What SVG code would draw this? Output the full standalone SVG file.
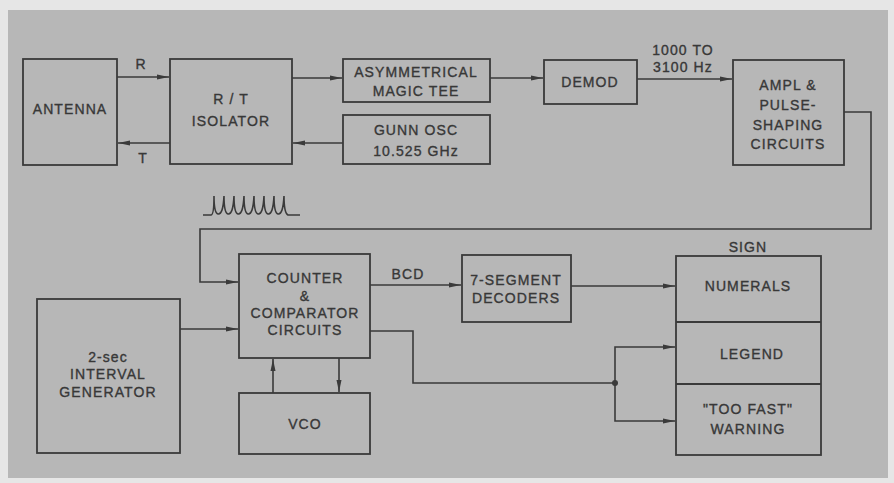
<svg xmlns="http://www.w3.org/2000/svg" width="894" height="483" viewBox="0 0 894 483">
<style>
.box{fill:none;stroke:#3a3a3a;stroke-width:1.8}
.ln{fill:none;stroke:#3a3a3a;stroke-width:1.6}
.t{font-family:"Liberation Sans","DejaVu Sans",sans-serif;font-size:14px;fill:#383838;stroke:#383838;stroke-width:0.35;text-anchor:middle;letter-spacing:1.1px}
</style>
<defs>
<marker id="ah" viewBox="0 0 12 6" refX="12" refY="3" markerWidth="12" markerHeight="6" markerUnits="userSpaceOnUse" orient="auto">
<path d="M0,0.5 L12,3 L0,5.5 Z" fill="#3a3a3a"/>
</marker>
</defs>
<rect x="0" y="0" width="894" height="483" fill="#e6e6e6"/>
<rect x="8" y="10" width="880" height="468" fill="#b7b7b7"/>

<g id="connectors">
<line class="ln" x1="117" y1="77" x2="169" y2="77" marker-end="url(#ah)"/>
<line class="ln" x1="170" y1="143" x2="118" y2="143" marker-end="url(#ah)"/>
<line class="ln" x1="292" y1="78" x2="342" y2="78" marker-end="url(#ah)"/>
<line class="ln" x1="343" y1="143" x2="293" y2="143" marker-end="url(#ah)"/>
<line class="ln" x1="490" y1="78" x2="543" y2="78" marker-end="url(#ah)"/>
<line class="ln" x1="637" y1="79" x2="732" y2="79" marker-end="url(#ah)"/>
<polyline class="ln" points="844,112 871,112 871,229 200,229 200,282 238,282" marker-end="url(#ah)"/>
<line class="ln" x1="180" y1="329" x2="238" y2="329" marker-end="url(#ah)"/>
<line class="ln" x1="273" y1="393" x2="273" y2="359" marker-end="url(#ah)"/>
<line class="ln" x1="339" y1="358" x2="339" y2="392" marker-end="url(#ah)"/>
<line class="ln" x1="370" y1="285" x2="461" y2="285" marker-end="url(#ah)"/>
<line class="ln" x1="571" y1="286" x2="675" y2="286" marker-end="url(#ah)"/>
<polyline class="ln" points="370,331 413,331 413,383 615,383"/>
<polyline class="ln" points="615,383 615,347 675,347" marker-end="url(#ah)"/>
<polyline class="ln" points="615,383 615,421 675,421" marker-end="url(#ah)"/>
<circle cx="615" cy="383" r="3" fill="#3a3a3a"/>
<text class="t" x="141" y="69">R</text>
<text class="t" x="143" y="163">T</text>
<text class="t" x="683" y="55">1000 TO</text>
<text class="t" x="683" y="72">3100 Hz</text>
<text class="t" x="408" y="279">BCD</text>
</g>

<g id="pulses">
<path class="ln" d="M203,215 L211,215 Q214,215 214,196 Q214,213 218,214 Q223,215 224,196 Q224,213 228,214 Q233,215 234,196 Q234,213 238,214 Q243,215 244,196 Q244,213 248,214 Q253,215 254,196 Q254,213 258,214 Q263,215 264,196 Q264,213 268,214 Q273,215 274,196 Q274,213 278,214 Q283,215 284,196 Q284,213 288,215 L300,215"/>
</g>

<g id="antenna">
<rect class="box" x="23" y="59" width="94" height="106"/>
<text class="t" x="70" y="114">ANTENNA</text>
</g>
<g id="isolator">
<rect class="box" x="170" y="59" width="122" height="105"/>
<text class="t" x="231" y="104">R / T</text>
<text class="t" x="231" y="126">ISOLATOR</text>
</g>
<g id="magictee">
<rect class="box" x="343" y="59" width="147" height="43"/>
<text class="t" x="416" y="77">ASYMMETRICAL</text>
<text class="t" x="416" y="96">MAGIC  TEE</text>
</g>
<g id="gunn">
<rect class="box" x="343" y="115" width="147" height="49"/>
<text class="t" x="416" y="135">GUNN OSC</text>
<text class="t" x="416" y="156">10.525 GHz</text>
</g>
<g id="demod">
<rect class="box" x="544" y="60" width="93" height="44"/>
<text class="t" x="590" y="87">DEMOD</text>
</g>
<g id="ampl">
<rect class="box" x="733" y="60" width="111" height="105"/>
<text class="t" x="788" y="90">AMPL &amp;</text>
<text class="t" x="788" y="110">PULSE-</text>
<text class="t" x="788" y="130">SHAPING</text>
<text class="t" x="788" y="149">CIRCUITS</text>
</g>
<g id="counter">
<rect class="box" x="239" y="254" width="131" height="104"/>
<text class="t" x="305" y="283">COUNTER</text>
<text class="t" x="305" y="301">&amp;</text>
<text class="t" x="305" y="318">COMPARATOR</text>
<text class="t" x="305" y="335">CIRCUITS</text>
</g>
<g id="interval">
<rect class="box" x="37" y="299" width="143" height="154"/>
<text class="t" x="108" y="362">2-sec</text>
<text class="t" x="108" y="379">INTERVAL</text>
<text class="t" x="108" y="397">GENERATOR</text>
</g>
<g id="vco">
<rect class="box" x="239" y="393" width="131" height="61"/>
<text class="t" x="305" y="429">VCO</text>
</g>
<g id="decoders">
<rect class="box" x="462" y="255" width="109" height="67"/>
<text class="t" x="516" y="285">7-SEGMENT</text>
<text class="t" x="516" y="303">DECODERS</text>
</g>
<g id="sign">
<text class="t" x="748" y="252">SIGN</text>
<rect class="box" x="676" y="256" width="145" height="199"/>
<line class="box" x1="676" y1="322" x2="821" y2="322"/>
<line class="box" x1="676" y1="384" x2="821" y2="384"/>
<text class="t" x="748" y="291">NUMERALS</text>
<text class="t" x="752" y="359">LEGEND</text>
<text class="t" x="748" y="414">"TOO FAST"</text>
<text class="t" x="748" y="434">WARNING</text>
</g>
</svg>
